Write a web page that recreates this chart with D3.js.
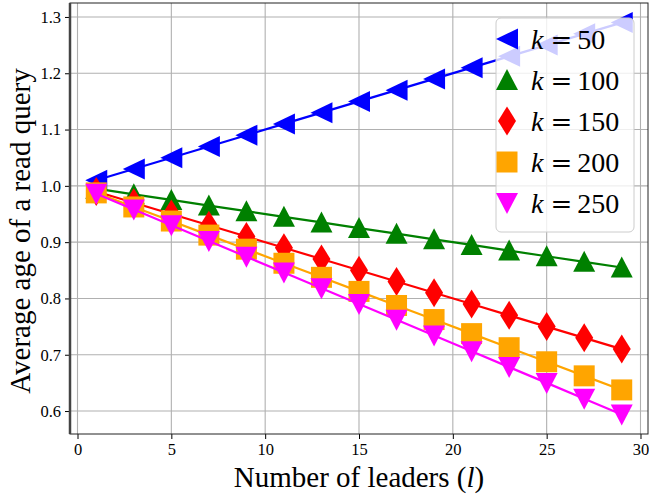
<!DOCTYPE html>
<html><head><meta charset="utf-8">
<script src="https://cdn.jsdelivr.net/npm/d3@7"></script>
<style>body{margin:0;background:#fff}svg{display:block}</style>
</head><body>
<script>
const leaders = [1,3,5,7,9,11,13,15,17,19,21,23,25,27,29];
const k50  = [1.01,1.03,1.05,1.07,1.09,1.11,1.13,1.15,1.17,1.19,1.21,1.23,1.25,1.27,1.29];
const k100 = [0.995,0.985,0.975,0.965,0.955,0.945,0.935,0.925,0.915,0.905,0.895,0.885,0.875,0.865,0.855];
const k150 = [0.99,0.97,0.95,0.93,0.91,0.89,0.87,0.85,0.83,0.81,0.79,0.77,0.75,0.73,0.71];
const k200 = [0.9875,0.9625,0.9375,0.9125,0.8875,0.8625,0.8375,0.8125,0.7875,0.7625,0.7375,0.7125,0.6875,0.6625,0.6375];
const k250 = [0.986,0.958,0.930,0.902,0.874,0.846,0.818,0.790,0.762,0.734,0.706,0.678,0.650,0.622,0.594];
const seriesNames = ["50","100","150","200","250"];
const seriesValues = [k50,k100,k150,k200,k250];
const seriesColors = ["#0000ff","#008000","#ff0000","#ffa500","#ff00ff"];
const seriesMarkers = ["tri-left","tri-up","diamond","square","tri-down"];
const xTicks = [0,5,10,15,20,25,30];
const yTicks = [0.6,0.7,0.8,0.9,1.0,1.1,1.2,1.3];

const W=649,H=500;
const L=70,R=648,T=3,B=434;
const svg=d3.select("body").append("svg").attr("width",W).attr("height",H);
const x=d3.scaleLinear().domain([-0.4,30.4]).range([L,R]);
const y=d3.scaleLinear().domain([0.5592,1.3248]).range([B,T]);
const font="Liberation Serif, Times New Roman, serif";

// grid
const g=svg.append("g");
g.selectAll(".gx").data(xTicks).join("line").attr("x1",d=>x(d)).attr("x2",d=>x(d)).attr("y1",T).attr("y2",B)
 .attr("stroke","#b0b0b0").attr("stroke-width",1.1);
g.selectAll(".gy").data(yTicks).join("line").attr("y1",d=>y(d)).attr("y2",d=>y(d)).attr("x1",L).attr("x2",R)
 .attr("stroke","#b0b0b0").attr("stroke-width",1.1);

// axes
const xAxis=d3.axisBottom(x).tickValues(xTicks).tickFormat(d3.format("d")).tickSize(5).tickPadding(4);
const yAxis=d3.axisLeft(y).tickValues(yTicks).tickFormat(d3.format(".1f")).tickSize(5).tickPadding(4);
const ax=svg.append("g").attr("transform",`translate(0,${B})`).call(xAxis);
const ay=svg.append("g").attr("transform",`translate(${L},0)`).call(yAxis);
[ax,ay].forEach(a=>{a.attr("font-family",font).attr("font-size",16.5);a.select(".domain").remove();a.selectAll("text").attr("fill","#000");a.selectAll("line").attr("stroke","#000").attr("stroke-width",1);});

// markers
function markerPath(type){
  switch(type){
    case "tri-left": return "M-11,0L11,-10.5L11,10.5Z";
    case "tri-up": return "M0,-11L-11,10L11,10Z";
    case "tri-down": return "M0,11L-11,-10L11,-10Z";
    case "square": return "M-10.5,-10.5H10.5V10.5H-10.5Z";
    case "diamond": return "M0,-14.5L9,0L0,14.5L-9,0Z";
  }
}
svg.append("defs").append("clipPath").attr("id","clip").append("rect").attr("x",L).attr("y",T).attr("width",R-L).attr("height",B-T);
const plot=svg.append("g").attr("clip-path","url(#clip)");
seriesValues.forEach((vals,i)=>{
  const pts=leaders.map((l,j)=>[l,vals[j]]);
  plot.append("path").datum(pts).attr("d",d3.line().x(d=>x(d[0])).y(d=>y(d[1])))
   .attr("fill","none").attr("stroke",seriesColors[i]).attr("stroke-width",2.2);
  plot.selectAll(null).data(pts).join("path").attr("d",markerPath(seriesMarkers[i]))
   .attr("transform",d=>`translate(${x(d[0])},${y(d[1])})`).attr("fill",seriesColors[i]);
});

// spines
svg.append("rect").attr("x",L).attr("y",T).attr("width",R-L).attr("height",B-T).attr("fill","none").attr("stroke","#222").attr("stroke-width",1);
svg.append("line").attr("x1",L).attr("x2",L).attr("y1",T).attr("y2",B).attr("stroke","#444").attr("stroke-width",2.5);

// labels
svg.append("text").attr("x",(L+R)/2).attr("y",487).attr("text-anchor","middle").attr("font-family",font).attr("font-size",29)
 .html('Number of leaders (<tspan font-style="italic">l</tspan>)');
svg.append("text").attr("transform",`translate(30,231) rotate(-90)`).attr("text-anchor","middle").attr("font-family",font).attr("font-size",29)
 .text("Average age of a read query");

// legend
const lg=svg.append("g");
lg.append("rect").attr("x",496).attr("y",18).attr("width",138).attr("height",214).attr("rx",5)
 .attr("fill","#fff").attr("fill-opacity",0.8).attr("stroke","#cccccc").attr("stroke-width",1);
const rowY=d3.scalePoint().domain(seriesNames).range([39,203]);
seriesNames.forEach((n,i)=>{
  const yy=rowY(n);
  lg.append("path").attr("d",markerPath(seriesMarkers[i])).attr("transform",`translate(507,${yy})`).attr("fill",seriesColors[i]);
  const t=lg.append("text").attr("x",531).attr("y",yy+10).attr("font-family","DejaVu Serif, Liberation Serif, serif").attr("font-size",26);
  t.append("tspan").attr("font-style","italic").attr("font-family",font).attr("font-size",28).text("k");
  t.append("tspan").attr("dx",7).text("=");
  t.append("tspan").attr("dx",5).attr("font-family",font).attr("font-size",28).text(n);
});
</script>
</body></html>
